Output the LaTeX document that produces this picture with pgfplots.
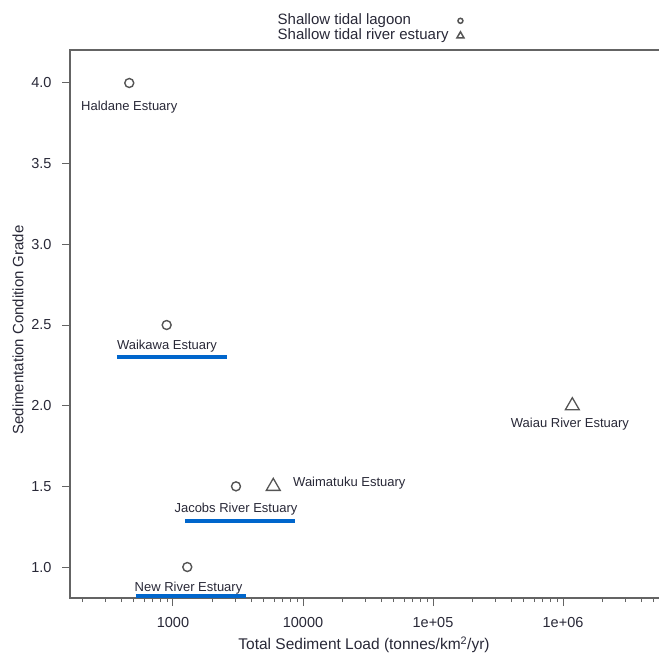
\documentclass[border=0pt]{standalone}
\usepackage{pgfplots}
\pgfplotsset{compat=1.18}
\usepackage{fontspec}
\setmainfont{Liberation Sans}
\definecolor{bl}{RGB}{0,102,204}
\definecolor{mk}{RGB}{85,85,85}
\definecolor{ax}{RGB}{100,100,100}
\definecolor{tx}{RGB}{40,40,55}
\begin{document}
\begin{tikzpicture}[x=1pt,y=1pt]
\path[use as bounding box] (0,0) rectangle (659,654);
\begin{axis}[
 at={(70pt,56pt)}, anchor=south west,
 scale only axis, width=610pt, height=548pt,
 xmode=log, xmin=161.4, xmax=7.94e6, ymin=0.808, ymax=4.2045,
 axis line style={ax, line width=1.6pt},
 xtick={1000,10000,100000,1000000}, xticklabels={1000,10000,1e+05,1e+06},
 minor xtick={200,300,400,500,600,700,800,900,2000,3000,4000,5000,6000,7000,8000,9000,20000,30000,40000,50000,60000,70000,80000,90000,200000,300000,400000,500000,600000,700000,800000,900000,2000000,3000000,4000000,5000000,6000000,7000000},
 ytick={1,1.5,2,2.5,3,3.5,4}, yticklabels={1.0,1.5,2.0,2.5,3.0,3.5,4.0},
 xtick pos=bottom, ytick pos=left, tick align=outside,
 major tick length=8pt, minor tick length=4pt,
 every tick/.style={ax, line width=1pt},
 tick label style={font=\fontsize{14.5}{16}\selectfont, text=tx},
 xticklabel style={yshift=-8pt},
 yticklabel style={xshift=-7pt},
 xlabel={Total Sediment Load (tonnes/km\textsuperscript{2}/yr)},
 ylabel={Sedimentation Condition Grade},
 xlabel style={at={(axis description cs:0.482,0)}, anchor=center, yshift=-47pt, font=\fontsize{15.5}{17}\selectfont, text=tx},
 ylabel style={at={(axis description cs:-0.0852,0.489)}, anchor=center, font=\fontsize{15}{17}\selectfont, text=tx},
 clip=false,
 legend style={at={(axis description cs:0.651,1.071)}, anchor=north east, draw=none, fill=none,
   font=\fontsize{15}{16}\selectfont, text=tx, row sep=0pt,
   nodes={inner sep=0.4pt, text height=11pt, text depth=3.2pt},
   /tikz/every odd column/.append style={column sep=8pt}},
 legend cell align=left, legend plot pos=right,
]
\addlegendimage{only marks, mark=o, mark size=2.5pt, mk, line width=1.5pt}
\addlegendentry{Shallow tidal lagoon}
\addlegendimage{only marks, mark=triangle, mark size=4pt, mk, line width=1.5pt}
\addlegendentry{Shallow tidal river estuary}

% blue underline bars
\addplot[bl, line width=4pt, forget plot] coordinates {(371,2.302) (2600,2.302)};
\addplot[bl, line width=4pt, forget plot] coordinates {(1237,1.285) (8670,1.285)};
\addplot[bl, line width=4pt, forget plot] coordinates {(519,0.820) (3643,0.820)};

% lagoons
\addplot[only marks, mark=o, mark size=4.5pt, mk, line width=1.4pt, forget plot] coordinates {
 (461,4.0) (894,2.5) (3052,1.5) (1288,1.0)};
% river estuaries
\addplot[only marks, mark=triangle, mark size=8pt, mk, line width=1.3pt, forget plot] coordinates {
 (5906,1.5) (1.179e6,2.0)};

\begin{scope}[font=\fontsize{13}{14}\selectfont, text=tx]
\node at (axis cs:461,3.85) {Haldane Estuary};
\node at (axis cs:900,2.37) {Waikawa Estuary};
\node at (axis cs:3050,1.36) {Jacobs River Estuary};
\node[anchor=west, inner sep=0pt] at (axis cs:8380,1.52) {Waimatuku Estuary};
\node at (axis cs:1316,0.872) {New River Estuary};
\node at (axis cs:1.13e6,1.885) {Waiau River Estuary};
\end{scope}
\end{axis}
\end{tikzpicture}
\end{document}
